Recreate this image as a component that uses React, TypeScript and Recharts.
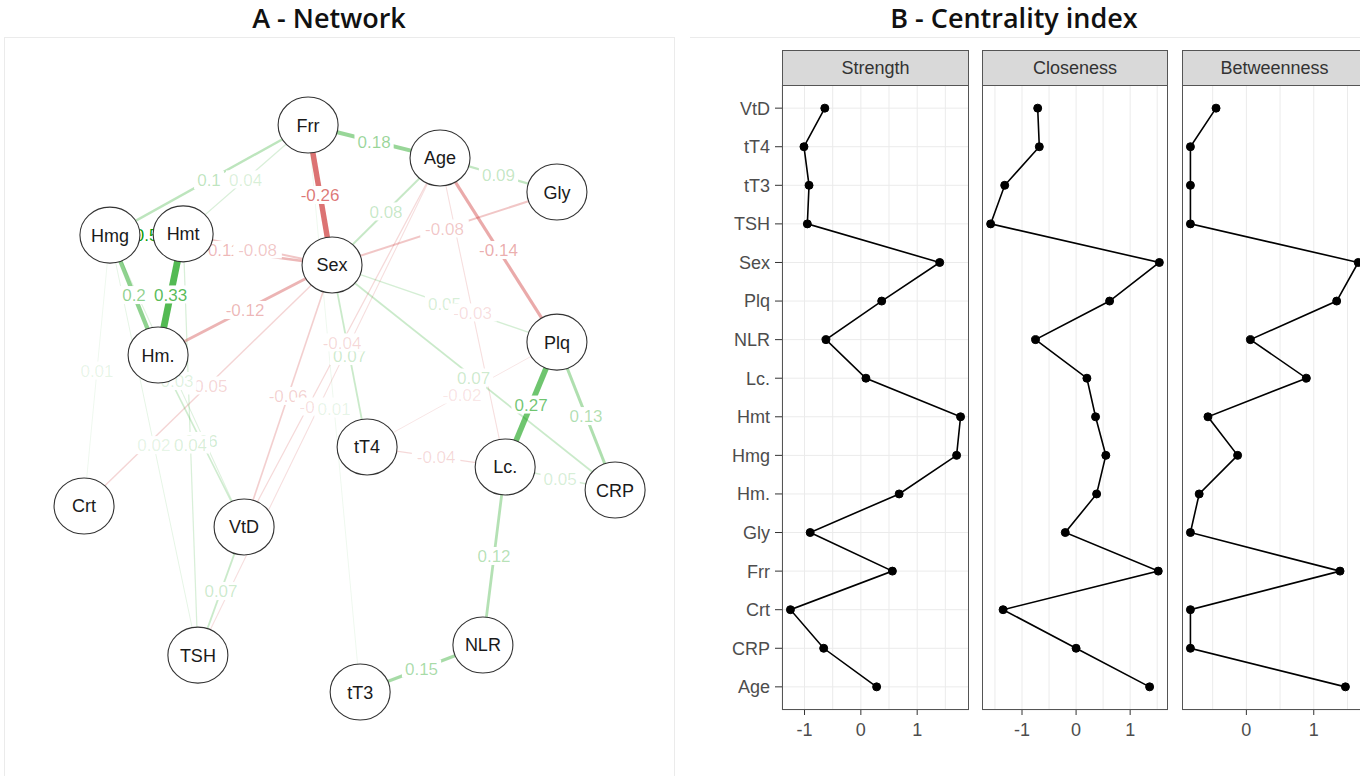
import React from "react";
import {
  ScatterChart,
  Scatter,
  XAxis,
  YAxis,
  ReferenceLine,
  ReferenceDot,
  LineChart,
  Line,
  CartesianGrid,
} from "recharts";

// network layout (qgraph-style coordinates)
const nodeNames = ["Frr", "Age", "Gly", "Hmg", "Hmt", "Sex", "Hm.", "Plq", "tT4", "Lc.", "CRP", "NLR", "tT3", "Crt", "VtD", "TSH"];
const nodeX = [-0.111, 0.363, 0.783, -0.823, -0.56, -0.025, -0.65, 0.783, 0.101, 0.597, 0.992, 0.517, 0.076, -0.916, -0.341, -0.507];
const nodeY = [0.917, 0.81, 0.699, 0.559, 0.563, 0.462, 0.169, 0.211, -0.13, -0.195, -0.27, -0.774, -0.927, -0.322, -0.39, -0.807];

// partial correlations [from, to, weight]
const edges: [string, string, number][] = [
  ["Frr", "Sex", -0.26],
  ["Frr", "Age", 0.18],
  ["Frr", "Hmg", 0.1],
  ["Frr", "Hmt", 0.04],
  ["Hmg", "Hmt", 0.5],
  ["Hmg", "Hm.", 0.2],
  ["Hmt", "Hm.", 0.33],
  ["Hmg", "Sex", -0.11],
  ["Hmt", "Sex", -0.08],
  ["Sex", "Hm.", -0.12],
  ["Sex", "Age", 0.08],
  ["Sex", "Gly", -0.08],
  ["Age", "Gly", 0.09],
  ["Age", "Plq", -0.14],
  ["Sex", "Plq", 0.05],
  ["Age", "Lc.", -0.03],
  ["Sex", "CRP", 0.07],
  ["Sex", "tT4", 0.07],
  ["Age", "VtD", -0.04],
  ["Sex", "VtD", -0.06],
  ["Age", "TSH", -0.03],
  ["Sex", "Crt", -0.05],
  ["Hmg", "VtD", 0.03],
  ["Hm.", "VtD", 0.06],
  ["Hmg", "TSH", 0.02],
  ["Hmt", "TSH", 0.04],
  ["Hmg", "Crt", 0.01],
  ["VtD", "TSH", 0.07],
  ["tT4", "Lc.", -0.04],
  ["Plq", "tT4", -0.02],
  ["Plq", "Lc.", 0.27],
  ["Plq", "CRP", 0.13],
  ["Lc.", "CRP", 0.05],
  ["Lc.", "NLR", 0.12],
  ["NLR", "tT3", 0.15],
  ["Frr", "tT3", 0.01],
];

// centrality indices (z-scores), listed top to bottom
const centralityNames = ["VtD", "tT4", "tT3", "TSH", "Sex", "Plq", "NLR", "Lc.", "Hmt", "Hmg", "Hm.", "Gly", "Frr", "Crt", "CRP", "Age"];
const strength = [-0.64, -1.01, -0.92, -0.95, 1.4, 0.37, -0.62, 0.09, 1.77, 1.7, 0.68, -0.9, 0.56, -1.25, -0.66, 0.28];
const closeness = [-0.71, -0.68, -1.32, -1.58, 1.54, 0.62, -0.75, 0.2, 0.36, 0.55, 0.38, -0.2, 1.52, -1.35, 0.0, 1.36];
const betweenness = [-0.45, -0.83, -0.83, -0.83, 1.66, 1.34, 0.06, 0.89, -0.57, -0.13, -0.7, -0.83, 1.39, -0.83, -0.83, 1.47];

const nodes = nodeNames.map((name, i) => ({ name, x: nodeX[i], y: nodeY[i] }));
const nodeIndex = (n: string) => nodeNames.indexOf(n);

const edgeColor = (w: number) => (w > 0 ? "#009900" : "#BF0000");
const edgeAlpha = (w: number) => Math.min(1, 0.08 + 1.8 * Math.abs(w));
const edgeWidth = (w: number) => 0.5 + 19 * Math.abs(w);

const NodeShape = (props: any) => {
  const { cx, cy, payload } = props;
  return (
    <g>
      <ellipse cx={cx} cy={cy} rx={30} ry={28} fill="#fff" stroke="#333" strokeWidth={1.1} />
      <text x={cx} y={cy} dy="0.36em" textAnchor="middle" fontSize={18} fill="#1a1a1a" fontFamily="Liberation Sans, Arial">
        {payload.name}
      </text>
    </g>
  );
};

const EdgeLabel = (props: any) => {
  const { cx, cy, w } = props;
  const text = String(w);
  const width = text.length * 9.3 + 2;
  return (
    <g>
      <rect x={cx - width / 2} y={cy - 9} width={width} height={18} fill="#fff" />
      <text x={cx} y={cy} dy="0.36em" textAnchor="middle" fontSize={17} fill={edgeColor(w)} fillOpacity={edgeAlpha(w)} fontFamily="Liberation Sans, Arial">
        {text}
      </text>
    </g>
  );
};

const Network = () => (
  <ScatterChart width={668} height={738} margin={{ top: 0, right: 0, bottom: 0, left: 0 }}>
    <XAxis type="number" dataKey="x" domain={[-1.2, 1.2]} hide allowDataOverflow />
    <YAxis type="number" dataKey="y" domain={[-1.2, 1.2]} hide allowDataOverflow />
    {edges.map(([a, b, w], i) => {
      const na = nodes[nodeIndex(a)];
      const nb = nodes[nodeIndex(b)];
      return (
        <ReferenceLine
          key={`e-${i}`}
          segment={[{ x: na.x, y: na.y }, { x: nb.x, y: nb.y }]}
          stroke={edgeColor(w)}
          strokeOpacity={edgeAlpha(w)}
          strokeWidth={edgeWidth(w)}
          ifOverflow="visible"
        />
      );
    })}
    {edges.map(([a, b, w], i) => {
      const na = nodes[nodeIndex(a)];
      const nb = nodes[nodeIndex(b)];
      return (
        <ReferenceDot
          key={`l-${i}`}
          x={(na.x + nb.x) / 2}
          y={(na.y + nb.y) / 2}
          r={0}
          ifOverflow="visible"
          shape={(p: any) => <EdgeLabel cx={p.cx} cy={p.cy} w={w} />}
        />
      );
    })}
    <Scatter data={nodes} shape={NodeShape} isAnimationActive={false} />
  </ScatterChart>
);

const TICK_SIZE = 5;
const TICK_MARGIN = 8;

const XTick = (props: any) => {
  const { x, y, payload } = props;
  if (!Number.isInteger(payload.value)) return null;
  const axisY = y - TICK_SIZE - TICK_MARGIN;
  return (
    <g>
      <line x1={x} x2={x} y1={axisY} y2={axisY + TICK_SIZE} stroke="#333" strokeWidth={1} />
      <text x={x} y={y} dy="0.71em" textAnchor="middle" fontSize={18} fill="#4d4d4d">
        {payload.value}
      </text>
    </g>
  );
};

const ranks = centralityNames.map((_, i) => i);
const PLOT_H = 625;

const Facet = ({ title, values, domain, gridTicks, left, width, showY }: any) => {
  const yw = showY ? 92 : 0;
  const rows = centralityNames.map((name, i) => ({ name, rank: i, value: values[i] }));
  return (
    <div style={{ position: "absolute", left: left - yw, top: 50, width: yw + width, height: 700 }}>
      <div
        style={{
          position: "absolute",
          left: yw,
          top: 0,
          width,
          height: 36,
          boxSizing: "border-box",
          background: "#D9D9D9",
          border: "1px solid #555",
          fontSize: 18,
          color: "#333",
          textAlign: "center",
          lineHeight: "34px",
        }}
      >
        {title}
      </div>
      <div style={{ position: "absolute", left: 0, top: 35 }}>
        <LineChart layout="vertical" width={yw + width} height={PLOT_H + 40} data={rows} margin={{ top: 0, right: 0, bottom: 0, left: 0 }}>
          <CartesianGrid stroke="#EBEBEB" strokeWidth={1} />
          <XAxis
            type="number"
            domain={domain}
            allowDataOverflow
            ticks={gridTicks}
            interval={0}
            tick={<XTick />}
            tickLine={false}
            axisLine={false}
            tickSize={TICK_SIZE}
            tickMargin={TICK_MARGIN}
            height={40}
          />
          <YAxis
            type="number"
            dataKey="rank"
            domain={[-0.6, 15.6]}
            allowDataOverflow
            ticks={ranks}
            interval={0}
            tickFormatter={(v: number) => centralityNames[v]}
            width={yw}
            axisLine={false}
            tick={showY ? { fill: "#4d4d4d", fontSize: 18 } : false}
            tickLine={showY ? { stroke: "#333" } : false}
            tickSize={7}
            tickMargin={5}
          />
          <Line
            dataKey="value"
            stroke="#000"
            strokeWidth={1.6}
            dot={{ r: 4, fill: "#000", stroke: "#000", strokeWidth: 1 }}
            isAnimationActive={false}
          />
        </LineChart>
        <div
          style={{
            position: "absolute",
            left: yw,
            top: 0,
            width,
            height: PLOT_H,
            boxSizing: "border-box",
            border: "1px solid #555",
            pointerEvents: "none",
          }}
        />
      </div>
    </div>
  );
};

const titleStyle: React.CSSProperties = {
  position: "absolute",
  top: 4,
  fontFamily: '"Open Sans", sans-serif',
  fontWeight: 600,
  fontSize: 27,
  lineHeight: "27px",
  whiteSpace: "nowrap",
  transform: "translateX(-50%)",
  color: "#111",
};

export default function App() {
  return (
    <div
      style={{
        position: "absolute",
        left: 0,
        top: 0,
        width: 1360,
        height: 776,
        overflow: "hidden",
        background: "#fff",
        fontFamily: '"Liberation Sans", Arial, sans-serif',
      }}
    >
      <div style={{ ...titleStyle, left: 329 }}>A - Network</div>
      <div style={{ ...titleStyle, left: 1014 }}>B - Centrality index</div>
      <div style={{ position: "absolute", left: 4, top: 37, width: 669, height: 760, border: "1px solid #EBEBEB" }} />
      <div style={{ position: "absolute", left: 690, top: 37, width: 680, borderTop: "1px solid #EBEBEB" }} />
      <div style={{ position: "absolute", left: 5, top: 38 }}>
        <Network />
      </div>
      <Facet title="Strength" values={strength} domain={[-1.4, 1.92]} gridTicks={[-1, -0.5, 0, 0.5, 1, 1.5]} left={782} width={187} showY />
      <Facet title="Closeness" values={closeness} domain={[-1.74, 1.7]} gridTicks={[-1.5, -1, -0.5, 0, 0.5, 1, 1.5]} left={982} width={186} />
      <Facet title="Betweenness" values={betweenness} domain={[-0.955, 1.79]} gridTicks={[-0.5, 0, 0.5, 1, 1.5]} left={1182} width={185} />
    </div>
  );
}
